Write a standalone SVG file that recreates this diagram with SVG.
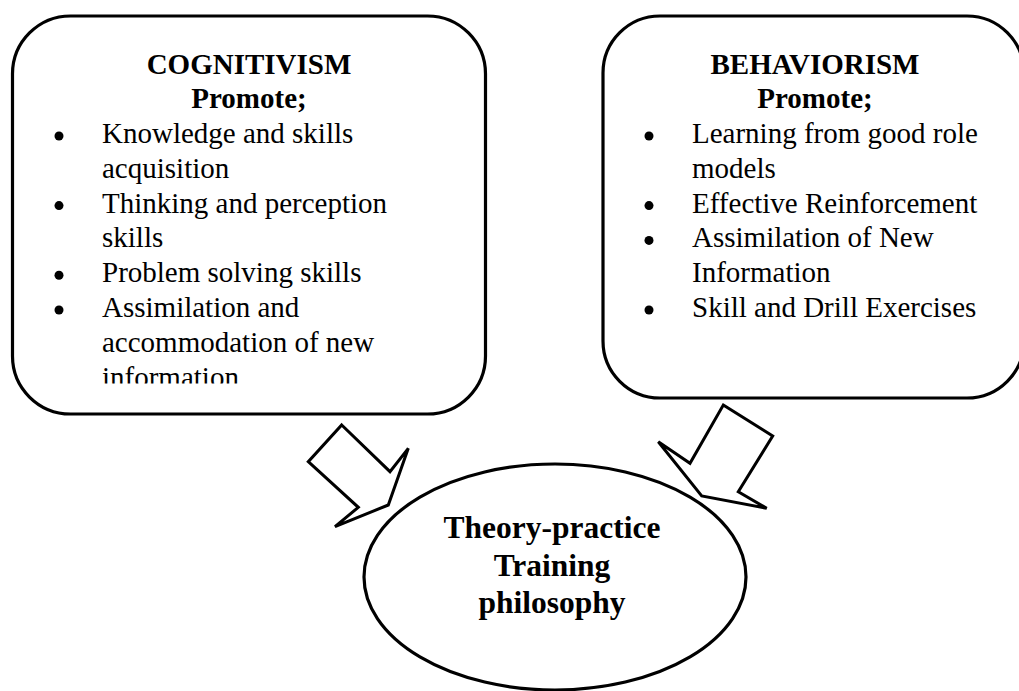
<svg xmlns="http://www.w3.org/2000/svg" width="1019" height="691" viewBox="0 0 1019 691">
  <style>
    .frame { fill: #ffffff; stroke: #000000; stroke-width: 3.2; }
    .block { fill: #ffffff; stroke: #000000; stroke-width: 3; stroke-linejoin: miter; }
    .head { font-family: "Liberation Serif", "Times New Roman", serif; font-weight: bold; font-size: 29px; text-anchor: middle; fill: #000000; }
    .item { font-family: "Liberation Serif", "Times New Roman", serif; font-size: 29px; fill: #000000; }
    .core { font-family: "Liberation Serif", "Times New Roman", serif; font-weight: bold; font-size: 31.5px; text-anchor: middle; fill: #000000; }
    .dot { fill: #000000; }
  </style>
  <defs>
    <clipPath id="cogClip">
      <rect x="0" y="0" width="500" height="383.5"/>
    </clipPath>
  </defs>

  <rect width="1019" height="691" fill="#ffffff"/>

  <!-- Cognitivism box -->
  <g id="node-cognitivism">
    <rect class="frame" x="12.5" y="16" width="473" height="398" rx="58" ry="58"/>
    <text class="head" x="249" y="74">COGNITIVISM</text>
    <text class="head" x="249" y="108.3">Promote;</text>
    <circle class="dot" cx="59" cy="136" r="4.5"/>
    <text class="item" x="102" y="143">Knowledge and skills</text>
    <text class="item" x="102" y="177.8">acquisition</text>
    <circle class="dot" cx="59" cy="205.6" r="4.5"/>
    <text class="item" x="102" y="212.6">Thinking and perception</text>
    <text class="item" x="102" y="247.4">skills</text>
    <circle class="dot" cx="59" cy="275.2" r="4.5"/>
    <text class="item" x="102" y="282.2">Problem solving skills</text>
    <circle class="dot" cx="59" cy="310" r="4.5"/>
    <text class="item" x="102" y="317">Assimilation and</text>
    <text class="item" x="102" y="351.8">accommodation of new</text>
    <g clip-path="url(#cogClip)">
      <text class="item" x="102" y="386.6">information</text>
    </g>
  </g>

  <!-- Behaviorism box -->
  <g id="node-behaviorism">
    <rect class="frame" x="603" y="16" width="421" height="382" rx="57" ry="57"/>
    <text class="head" x="815" y="74">BEHAVIORISM</text>
    <text class="head" x="815" y="108.3">Promote;</text>
    <circle class="dot" cx="649" cy="136" r="4.5"/>
    <text class="item" x="692" y="143">Learning from good role</text>
    <text class="item" x="692" y="177.8">models</text>
    <circle class="dot" cx="649" cy="205.6" r="4.5"/>
    <text class="item" x="692" y="212.6">Effective Reinforcement</text>
    <circle class="dot" cx="649" cy="240.4" r="4.5"/>
    <text class="item" x="692" y="247.4">Assimilation of New</text>
    <text class="item" x="692" y="282.2">Information</text>
    <circle class="dot" cx="649" cy="310" r="4.5"/>
    <text class="item" x="692" y="317">Skill and Drill Exercises</text>
  </g>

  <!-- Central philosophy ellipse -->
  <g id="node-philosophy">
    <ellipse class="frame" cx="555" cy="577" rx="191" ry="113"/>
    <text class="core" x="552" y="538">Theory-practice</text>
    <text class="core" x="552" y="576">Training</text>
    <text class="core" x="552" y="613">philosophy</text>
  </g>

  <!-- Block arrows feeding the ellipse -->
  <g id="connectors">
    <polygon id="arrow-cognitivism" class="block" points="341.7,425 390,471.7 408.3,448.3 388.3,505 335,526.7 358.3,507.3 308.3,461.7"/>
    <polygon id="arrow-behaviorism" class="block" points="723.3,405 772.7,436 738.3,491.7 766.7,508.3 701.7,496 658.3,441.7 690,463.3"/>
  </g>
</svg>
